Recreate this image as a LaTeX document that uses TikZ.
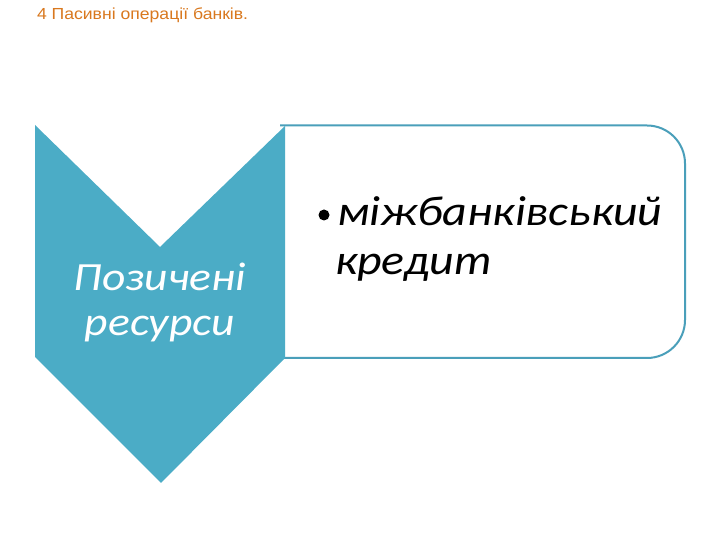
\documentclass[tikz,border=0pt]{standalone}
\usepackage{fontspec}
\setmainfont{Carlito}
\newfontfamily\bodyfont[FakeStretch=1.14]{Carlito}
\newfontfamily\titlefont[FakeStretch=1.1]{Liberation Sans}
\definecolor{teal1}{HTML}{4BACC6}
\definecolor{tealb}{HTML}{4A9FBA}
\definecolor{orange1}{HTML}{D9781E}
\begin{document}
\begin{tikzpicture}[x=1pt,y=1pt,
  txt/.style={inner sep=0pt,outer sep=0pt,anchor=base west},
  lefttxt/.style={inner sep=0pt,outer sep=0pt,anchor=base,text=white,font=\bodyfont\fontsize{40}{45}\selectfont\itshape},
  righttxt/.style={inner sep=0pt,outer sep=0pt,anchor=base west,text=black,font=\bodyfont\fontsize{42}{48}\selectfont\itshape}]
\useasboundingbox[fill=white] (0,0) rectangle (720,540);
\node[txt,text=orange1,font=\titlefont\fontsize{16}{18}\selectfont] (title) at (37,520) {4 Пасивні операції банків.};
% right rounded box
\draw[tealb,line width=2pt,fill=white,rounded corners=38pt] (280,414.5) -- (685,414.5) -- (685,182) -- (280,182);
% chevron
\fill[teal1] (35,415) -- (160,293) -- (285,414) -- (285,182) -- (161,57) -- (35,183) -- cycle;
\node[lefttxt] (l1) at (160,249) {Позичені};
\node[lefttxt] (l2) at (160,204) {ресурси};
\node[righttxt] (r1) at (337,314) {міжбанківський};
\node[righttxt] (r2) at (335,265) {кредит};
\fill[black] (324,325) circle (5.5pt);
\end{tikzpicture}
\end{document}
